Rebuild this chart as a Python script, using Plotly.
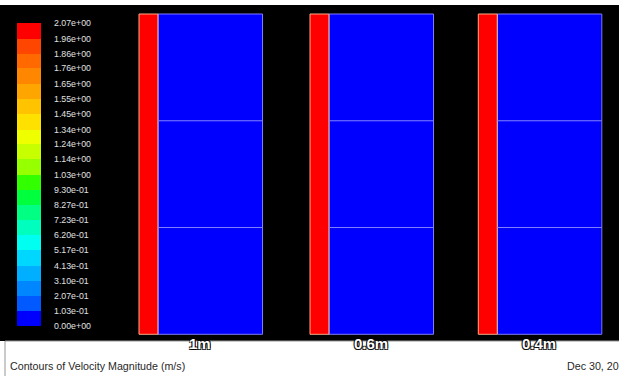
import plotly.graph_objects as go

# ---------------- data ----------------
level_values = [0.0, 0.103, 0.207, 0.310, 0.413, 0.517, 0.620, 0.723, 0.827, 0.930,
                1.03, 1.14, 1.24, 1.34, 1.45, 1.55, 1.65, 1.76, 1.86, 1.96, 2.07]
level_labels = ["0.00e+00", "1.03e-01", "2.07e-01", "3.10e-01", "4.13e-01", "5.17e-01",
                "6.20e-01", "7.23e-01", "8.27e-01", "9.30e-01", "1.03e+00", "1.14e+00",
                "1.24e+00", "1.34e+00", "1.45e+00", "1.55e+00", "1.65e+00", "1.76e+00",
                "1.86e+00", "1.96e+00", "2.07e+00"]
cases = ["1m", "0.6m", "0.4m"]
inlet_velocity = [2.07, 2.07, 2.07]     # velocity in the inlet strip (m/s)
domain_velocity = [0.0, 0.0, 0.0]       # velocity in the main domain (m/s)

# ---------------- style ----------------
band_colors = [  # bottom (low) -> top (high)
    "rgb(0,0,255)", "rgb(0,90,255)", "rgb(0,135,255)", "rgb(0,175,255)", "rgb(0,215,255)",
    "rgb(0,255,240)", "rgb(0,255,190)", "rgb(0,255,130)", "rgb(0,255,60)", "rgb(50,255,0)",
    "rgb(150,255,0)", "rgb(200,255,0)", "rgb(240,255,0)", "rgb(255,225,0)", "rgb(255,195,0)",
    "rgb(255,165,0)", "rgb(255,135,0)", "rgb(255,105,0)", "rgb(255,70,0)", "rgb(255,0,0)",
]
n = len(band_colors)
colorscale = []
for i, c in enumerate(band_colors):
    colorscale.append([i / n, c])
    colorscale.append([(i + 1) / n, c])
vmin, vmax = level_values[0], level_values[-1]

W, H = 619, 376
fig = go.Figure()

# panel geometry (pixels): left edge of inlet strip, inlet width, domain width
panel_x0 = [139, 310, 478.3]
inlet_w = 19
domain_w = 104.5
panel_top, panel_bot = 14, 334.3

shapes = []
# black graphics window
shapes.append(dict(type="rect", xref="x", yref="y", x0=0, x1=W, y0=5, y1=341,
                   fillcolor="black", line_width=0, layer="below"))

outline = ("-1px -1px 0 rgba(0,0,0,0.85), 1px -1px 0 rgba(0,0,0,0.85), "
           "-1px 1px 0 rgba(0,0,0,0.85), 1px 1px 0 rgba(0,0,0,0.85)")
annotations = []
for i, name in enumerate(cases):
    x0 = panel_x0[i]
    x1 = x0 + inlet_w
    x2 = x1 + domain_w
    fig.add_trace(go.Heatmap(
        x=[x0, x1, x2], y=[panel_top, panel_bot],
        z=[[inlet_velocity[i], domain_velocity[i]]],
        colorscale=colorscale, zmin=vmin, zmax=vmax, showscale=False,
        xaxis="x", yaxis="y", hoverinfo="skip"))
    # outlines
    shapes.append(dict(type="rect", xref="x", yref="y", x0=x1, x1=x2, y0=panel_top, y1=panel_bot,
                       line=dict(color="rgb(125,125,255)", width=1)))
    shapes.append(dict(type="rect", xref="x", yref="y", x0=x0, x1=x1, y0=panel_top, y1=panel_bot,
                       line=dict(color="rgb(255,170,130)", width=1)))
    for frac in (1 / 3, 2 / 3):
        yy = panel_top + frac * (panel_bot - panel_top)
        shapes.append(dict(type="line", xref="x", yref="y", x0=x1, x1=x2, y0=yy, y1=yy,
                           line=dict(color="rgb(130,130,255)", width=1)))
    annotations.append(dict(x=(x0 + x2) / 2 - 1, y=343, xref="x", yref="y", text=name,
                            showarrow=False, xanchor="center", yanchor="middle",
                            font=dict(family="Liberation Sans", size=15, color="white",
                                      weight="bold", shadow=outline)))

# legend colour bar drawn on its own value axis (y2)
band_mid = [(level_values[k] + level_values[k + 1]) / 2 for k in range(len(level_values) - 1)]
fig.add_trace(go.Heatmap(
    x=[17, 41], y=level_values, z=[[v] for v in band_mid],
    colorscale=colorscale, zmin=vmin, zmax=vmax, showscale=False,
    xaxis="x", yaxis="y2", hoverinfo="skip"))
for v, lab in zip(level_values, level_labels):
    annotations.append(dict(x=52, y=v, xref="x", yref="y2", text=lab, showarrow=False,
                            xanchor="left", yanchor="middle",
                            font=dict(family="Liberation Sans", size=8.8, color="rgb(225,225,225)")))

# info box at the bottom
shapes.append(dict(type="line", xref="x", yref="y", x0=5, x1=W, y0=341, y1=341,
                   line=dict(color="rgb(150,150,150)", width=1)))
shapes.append(dict(type="line", xref="x", yref="y", x0=5, x1=5, y0=341, y1=H,
                   line=dict(color="rgb(150,150,150)", width=1)))
info_font = dict(family="Liberation Sans", size=10.7, color="rgb(40,40,40)")
annotations.append(dict(x=8, y=366, xref="x", yref="y", text="Contours of Velocity Magnitude (m/s)",
                        showarrow=False, xanchor="left", yanchor="middle", font=info_font))
annotations.append(dict(x=565, y=366, xref="x", yref="y", text="Dec 30, 2011",
                        showarrow=False, xanchor="left", yanchor="middle", font=info_font))
annotations.append(dict(x=533, y=372, xref="x", yref="y", text="FLUENT 6.3 (2d, pbns, lam)",
                        showarrow=False, xanchor="left", yanchor="top", font=info_font))

# pixel scale for y2: value 0 at 326 px, 2.07 at 23 px
ppu = (326 - 23) / (vmax - vmin)
y2_range = [vmin - (H - 326) / ppu, vmax + 23 / ppu]

fig.update_layout(
    width=W, height=H, autosize=False,
    margin=dict(l=0, r=0, t=0, b=0, pad=0),
    paper_bgcolor="white", plot_bgcolor="white",
    xaxis=dict(range=[0, W], visible=False, fixedrange=True),
    yaxis=dict(range=[H, 0], visible=False, fixedrange=True),
    yaxis2=dict(range=y2_range, visible=False, overlaying="y", fixedrange=True),
    shapes=shapes, annotations=annotations, showlegend=False,
)

fig.write_html("out.html", config={"displayModeBar": False})
